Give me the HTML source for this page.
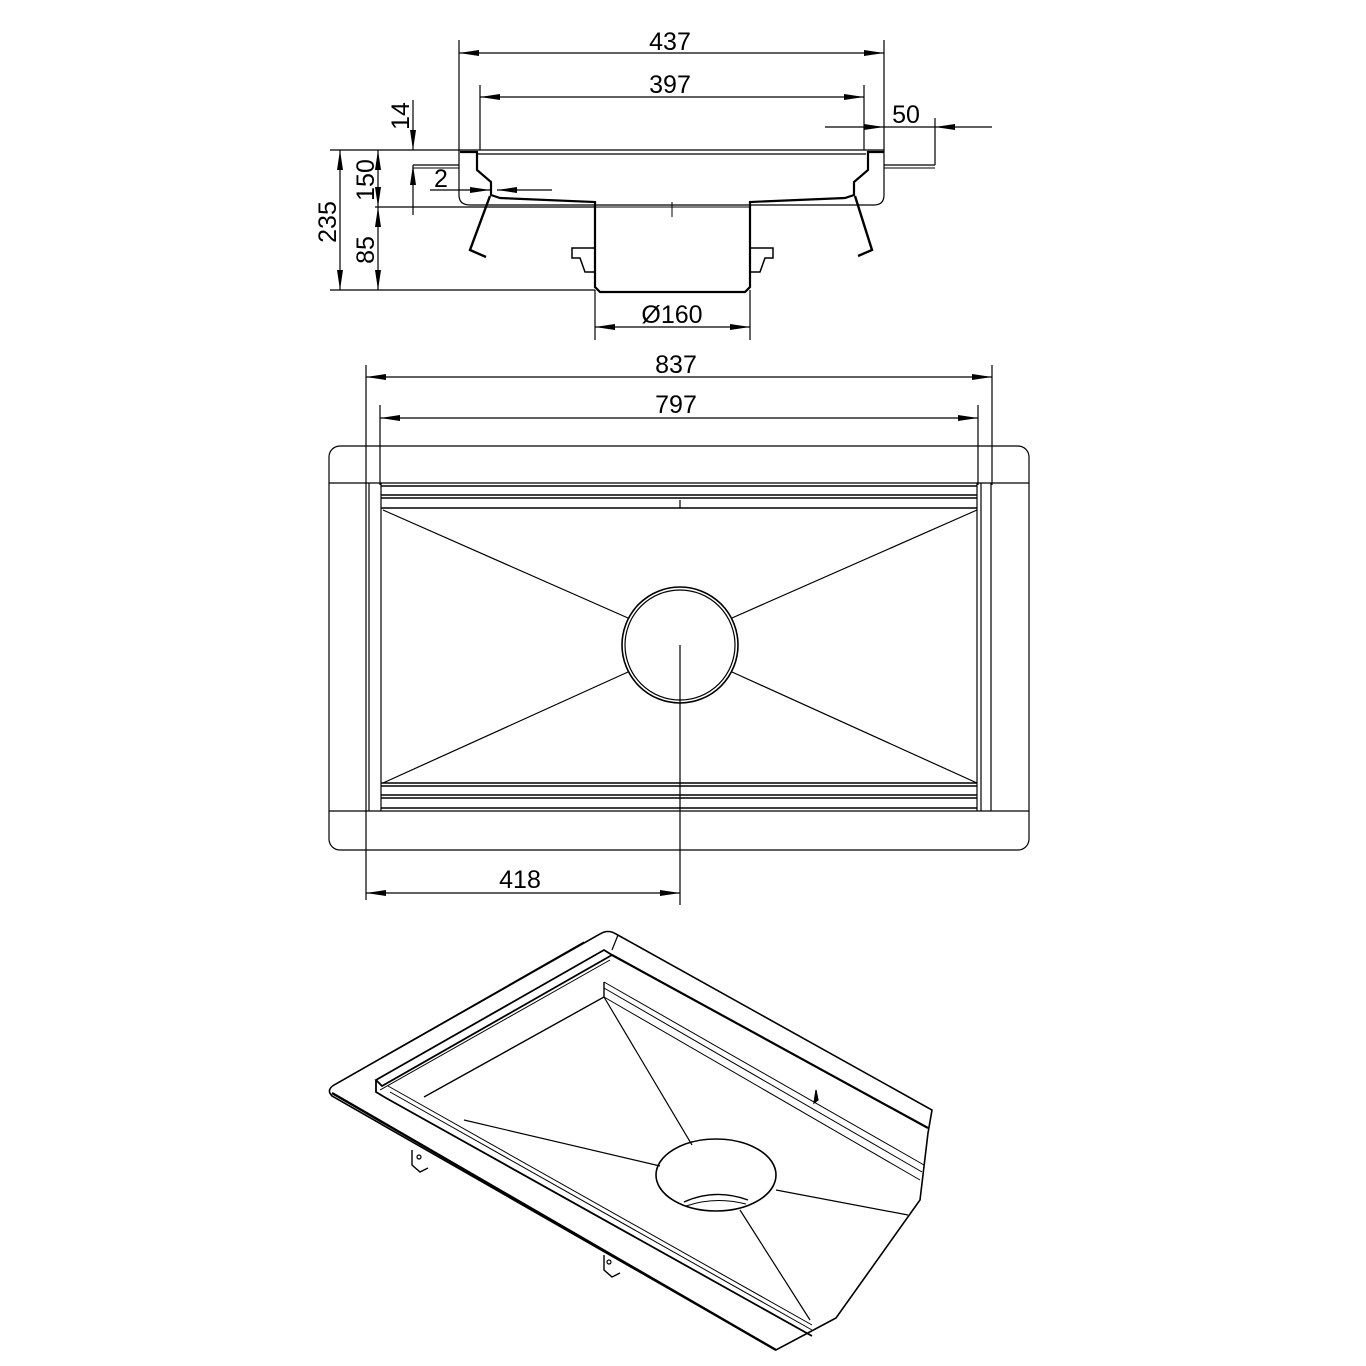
<!DOCTYPE html>
<html><head><meta charset="utf-8"><style>
html,body{margin:0;padding:0;background:#fff}
svg{display:block}
text{font-family:"Liberation Sans",sans-serif;font-size:25px;fill:#000}
</style></head><body>
<svg width="1366" height="1366" viewBox="0 0 1366 1366" xmlns="http://www.w3.org/2000/svg">
<defs>
<marker id="a" viewBox="0 0 20 6" refX="20" refY="3" markerWidth="20" markerHeight="6" orient="auto-start-reverse" markerUnits="userSpaceOnUse"><path d="M0,0L20,3L0,6z" fill="#000"/></marker>
</defs>
<g stroke="#000" fill="none" stroke-width="1.2">
<!-- ===== SECTION VIEW ===== -->
<!-- extension lines -->
<line x1="459" y1="40" x2="459" y2="150"/>
<line x1="884" y1="40" x2="884" y2="150"/>
<line x1="480" y1="85" x2="480" y2="150"/>
<line x1="864" y1="85" x2="864" y2="150"/>
<line x1="935" y1="118" x2="935" y2="165"/>
<line x1="330" y1="150" x2="884" y2="150"/>
<line x1="477" y1="154" x2="866" y2="154"/>
<line x1="375" y1="207" x2="595" y2="207"/>
<line x1="330" y1="290" x2="595" y2="290"/>
<line x1="595" y1="290" x2="595" y2="340"/>
<line x1="750" y1="290" x2="750" y2="340"/>
<!-- dims -->
<line x1="459" y1="53" x2="884" y2="53" marker-start="url(#a)" marker-end="url(#a)"/>
<line x1="480" y1="97" x2="864" y2="97" marker-start="url(#a)" marker-end="url(#a)"/>
<line x1="825" y1="127" x2="884" y2="127" marker-end="url(#a)"/>
<line x1="992" y1="127" x2="935" y2="127" marker-end="url(#a)"/>
<line x1="935" y1="127" x2="884" y2="127"/>
<line x1="340" y1="150" x2="340" y2="290" marker-start="url(#a)" marker-end="url(#a)"/>
<line x1="378" y1="150" x2="378" y2="207" marker-start="url(#a)" marker-end="url(#a)"/>
<line x1="378" y1="207" x2="378" y2="290" marker-start="url(#a)" marker-end="url(#a)"/>
<line x1="413" y1="100" x2="413" y2="150" marker-end="url(#a)"/>
<line x1="413" y1="215" x2="413" y2="165" marker-end="url(#a)"/>
<line x1="430" y1="190" x2="490" y2="190" marker-end="url(#a)"/>
<line x1="552" y1="190" x2="497" y2="190" marker-end="url(#a)"/>
<line x1="595" y1="327" x2="750" y2="327" marker-start="url(#a)" marker-end="url(#a)"/>
<!-- box -->
<path d="M413,165H459V150M459,150V195Q459,205 470,205H874Q884,205 884,195V150M884,165H935"/>
<path d="M413,168H459M884,168H935" stroke-width="1"/>
<!-- body -->
<path d="M460,152H477V170L491,182V195L500,198L595,202V287L600,292H745L750,287V202L845,198L854,195V182L868,170V152H884" stroke-width="2.2"/>
<path d="M595,207H750M672,202V217" stroke-width="1"/>
<path d="M490,196L470,250L486,257M855,196L872,250L858,256" stroke-width="2.4"/>
<path d="M572,248H595V272H585L580,258H572ZM773,248H750V272H760L765,258H773Z" stroke-width="1.5"/>
<!-- ===== TOP VIEW ===== -->
<line x1="366" y1="365" x2="366" y2="900"/>
<line x1="992" y1="365" x2="992" y2="485"/>
<line x1="380" y1="405" x2="380" y2="485"/>
<line x1="978" y1="405" x2="978" y2="485"/>
<line x1="366" y1="377" x2="992" y2="377" marker-start="url(#a)" marker-end="url(#a)"/>
<line x1="380" y1="418" x2="978" y2="418" marker-start="url(#a)" marker-end="url(#a)"/>
<line x1="366" y1="893" x2="680" y2="893" marker-start="url(#a)" marker-end="url(#a)"/>
<rect x="329" y="446" width="700" height="404" rx="11"/>
<line x1="329" y1="483" x2="1029" y2="483"/>
<line x1="329" y1="811" x2="1029" y2="811"/>
<line x1="369" y1="483" x2="369" y2="811"/>
<line x1="381" y1="483" x2="381" y2="811"/>
<line x1="977" y1="483" x2="977" y2="811"/>
<line x1="981" y1="483" x2="981" y2="811"/>
<line x1="991" y1="483" x2="991" y2="811"/>
<g stroke-width="1.6">
<line x1="381" y1="486" x2="977" y2="486"/>
<line x1="381" y1="495" x2="977" y2="495"/>
<line x1="381" y1="498" x2="977" y2="498"/>
<line x1="381" y1="508" x2="977" y2="508"/>
<line x1="381" y1="783" x2="977" y2="783"/>
<line x1="381" y1="786" x2="977" y2="786"/>
<line x1="381" y1="795" x2="977" y2="795"/>
<line x1="381" y1="798" x2="977" y2="798"/>
<line x1="381" y1="808" x2="977" y2="808"/>
</g>
<line x1="680" y1="500" x2="680" y2="508"/>
<line x1="680" y1="645" x2="680" y2="905"/>
<circle cx="680" cy="645" r="58" stroke-width="1.6"/>
<circle cx="680" cy="645" r="55"/>
<line x1="383" y1="510" x2="628" y2="618"/>
<line x1="977" y1="510" x2="732" y2="618"/>
<line x1="383" y1="783" x2="628" y2="672"/>
<line x1="977" y1="783" x2="732" y2="672"/>
<!-- ===== ISO VIEW ===== -->
<path d="M600,934Q608,929 616,934L932,1110L928,1133L920,1200L836,1318L776,1350L332,1096Q326,1090 334,1085Z" stroke-width="1.6"/>
<path d="M332,1093L776,1350" stroke-width="2.4"/>
<line x1="584" y1="942" x2="348" y2="1077"/>
<line x1="618" y1="935" x2="612" y2="950"/>
<path d="M376,1080L604,950L612,955L382,1086Z" stroke-width="1.8"/>
<path d="M380,1090L610,960" stroke-width="1"/>
<path d="M376,1080V1092L386,1098L812,1336" stroke-width="1.8"/>
<path d="M388,1086L812,1325M390,1092L812,1330" stroke-width="1"/>
<path d="M612,955L928,1128" stroke-width="2.2"/>
<path d="M604,982L924,1165M604,988L922,1172M604,997L920,1180" stroke-width="1"/>
<path d="M604,982V997L424,1097" stroke-width="1.4"/>
<line x1="604" y1="997" x2="692" y2="1145"/>
<line x1="464" y1="1120" x2="660" y2="1166"/>
<line x1="776" y1="1190" x2="908" y2="1215"/>
<line x1="740" y1="1210" x2="810" y2="1320"/>
<ellipse cx="716" cy="1175" rx="60" ry="36" stroke-width="1.6"/>
<path d="M684,1202Q715,1188 748,1200" stroke-width="1.4"/>
<path d="M686,1206Q715,1196 746,1204" stroke-width="1"/>
<path d="M816,1090L814,1103L818,1100Z" fill="#000"/>
<path d="M412,1150V1165L420,1172L428,1168M604,1255V1270L612,1277L620,1273" stroke-width="1.4"/>
<circle cx="419" cy="1157" r="2"/><circle cx="609" cy="1262" r="2"/>
</g>
<text x="670" y="50" text-anchor="middle">437</text>
<text x="670" y="93" text-anchor="middle">397</text>
<text x="906" y="123" text-anchor="middle">50</text>
<text x="441" y="187" text-anchor="middle">2</text>
<text x="672" y="323" text-anchor="middle">Ø160</text>
<text x="676" y="373" text-anchor="middle">837</text>
<text x="676" y="413" text-anchor="middle">797</text>
<text x="520" y="888" text-anchor="middle">418</text>
<text transform="translate(409,116) rotate(-90)" text-anchor="middle">14</text>
<text transform="translate(374,180) rotate(-90)" text-anchor="middle">150</text>
<text transform="translate(336,222) rotate(-90)" text-anchor="middle">235</text>
<text transform="translate(374,250) rotate(-90)" text-anchor="middle">85</text>
</svg>
</body></html>
